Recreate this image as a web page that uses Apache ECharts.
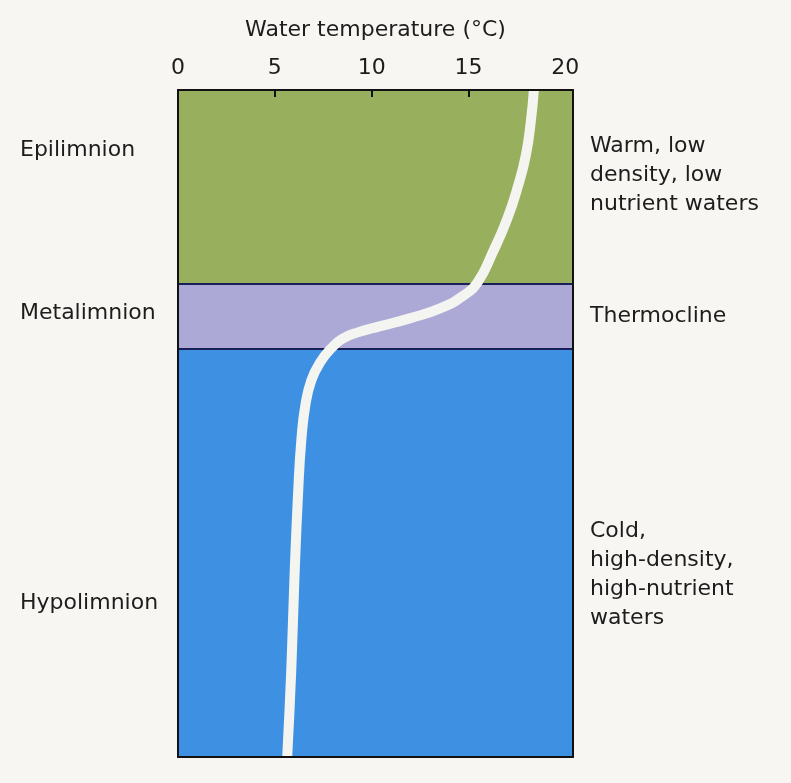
<!DOCTYPE html>
<html>
<head>
<meta charset="utf-8">
<script src="https://cdn.jsdelivr.net/npm/echarts@6/dist/echarts.min.js"></script>
<style>
html,body{margin:0;padding:0;background:#f7f6f2;}
#chart{width:791px;height:783px;}
</style>
</head>
<body>
<div id="chart"></div>
<script>
// Temperature profile (°C) against relative depth (0 = surface, 100 = bottom)
const temperature = [18.38, 18.23, 17.97, 17.55, 16.98, 16.26, 15.48, 14.70, 13.57, 12.01, 10.46, 9.32, 8.49, 7.92, 7.35, 6.89, 6.58, 6.37, 6.21, 6.01, 5.85, 5.64];
const depth       = [0, 4.5, 9.7, 14.5, 19.5, 24.3, 28.8, 30.9, 32.7, 34.2, 35.4, 36.3, 37.3, 38.7, 40.8, 43.5, 47.2, 52.5, 60.0, 73.5, 87.0, 100];
const tempTicks = [0, 5, 10, 15, 20];
const layerNames = ['Epilimnion', 'Metalimnion', 'Hypolimnion'];
const layerBounds = [0, 29.1, 38.8, 100];
const layerColors = ['#98b05e', '#aca9d7', '#3e90e2'];
const layerDescriptions = ['Warm, low\ndensity, low\nnutrient waters', 'Thermocline', 'Cold,\nhigh-density,\nhigh-nutrient\nwaters'];

const FONT = 'DejaVu Sans';
const TXT = '#1d1d1d';
const chart = echarts.init(document.getElementById('chart'), null, {renderer: 'canvas'});

const profile = temperature.map((t, i) => [t, depth[i]]);
const areas = layerNames.map((n, i) => [
  {yAxis: layerBounds[i], itemStyle: {color: layerColors[i], opacity: 1}},
  {yAxis: layerBounds[i + 1]}
]);
const boundaries = layerBounds.slice(1, -1).map(v => ({yAxis: v}));

const leftY = [153, 316, 606];
const rightY = [175, 316, 575];
const graphics = [];
layerNames.forEach((n, i) => {
  graphics.push({type: 'text', left: 20, top: leftY[i] - 14, style: {text: n, font: '22px "' + FONT + '"', fill: TXT}});
});
layerDescriptions.forEach((d, i) => {
  const lines = d.split('\n').length;
  graphics.push({type: 'text', left: 590, top: rightY[i] - lines * 29 / 2, style: {text: d, font: '22px "' + FONT + '"', fill: TXT, lineHeight: 29}});
});

const xBase = {type: 'value', min: 0, max: 20.4, gridIndex: 0, splitLine: {show: false}, z: 10};
const yBase = {type: 'value', min: 0, max: 100, inverse: true, splitLine: {show: false}, axisLabel: {show: false}, axisTick: {show: false}, z: 10,
  axisLine: {show: true, onZero: false, lineStyle: {color: '#111', width: 2}}};

chart.setOption({
  backgroundColor: '#f7f6f2',
  animation: false,
  textStyle: {fontFamily: FONT},
  grid: {left: 178, right: 218, top: 90, bottom: 26, containLabel: false},
  xAxis: [
    Object.assign({}, xBase, {
      position: 'top',
      name: 'Water temperature (°C)', nameLocation: 'middle', nameGap: 49,
      nameTextStyle: {fontSize: 22, color: TXT, fontFamily: FONT},
      axisLine: {show: true, onZero: false, lineStyle: {color: '#111', width: 2}},
      axisTick: {show: true, inside: true, length: 7, customValues: [5, 10, 15], lineStyle: {color: '#111', width: 2}},
      axisLabel: {show: true, customValues: tempTicks, margin: 11, fontSize: 22, color: TXT, fontFamily: FONT}
    }),
    Object.assign({}, xBase, {
      position: 'bottom',
      axisLine: {show: true, onZero: false, lineStyle: {color: '#111', width: 2}},
      axisTick: {show: false}, axisLabel: {show: false}
    })
  ],
  yAxis: [
    Object.assign({}, yBase, {position: 'left'}),
    Object.assign({}, yBase, {position: 'right'})
  ],
  series: [
    {
      type: 'line', data: [], z: 1, silent: true,
      markArea: {silent: true, data: areas},
      markLine: {silent: true, symbol: 'none', label: {show: false},
        lineStyle: {color: '#1a1f5a', width: 2, type: 'solid'}, data: boundaries}
    },
    {
      type: 'line', data: profile, z: 5, smooth: 0.5, showSymbol: false, symbol: 'none',
      lineStyle: {color: '#f4f4f1', width: 10, cap: 'butt', join: 'round'}
    }
  ],
  graphic: graphics
});
</script>
</body>
</html>
